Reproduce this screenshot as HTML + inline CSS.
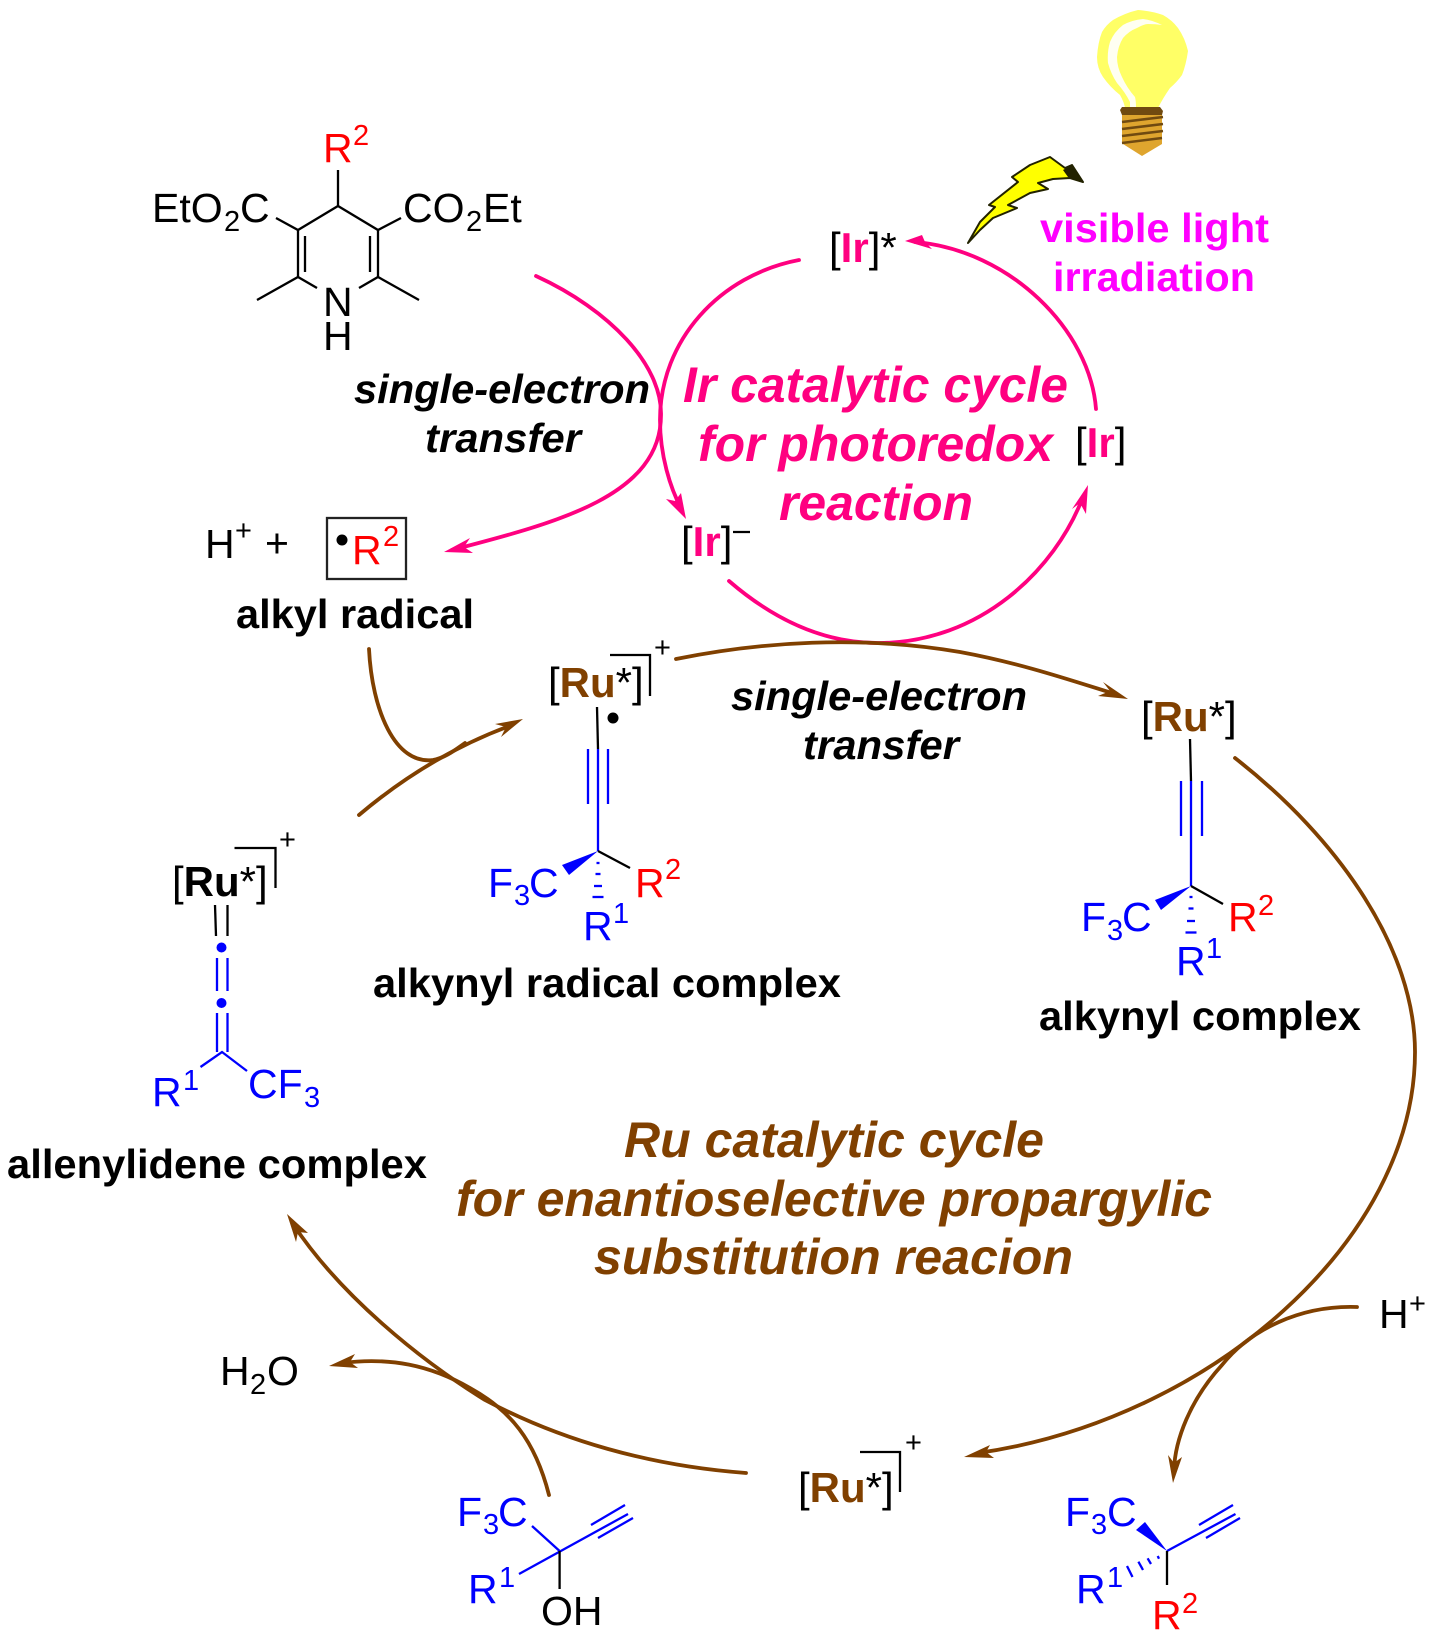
<!DOCTYPE html>
<html><head><meta charset="utf-8"><style>
html,body{margin:0;padding:0;background:#fff}
svg{display:block}
text{font-family:"Liberation Sans",sans-serif;white-space:pre}
.n{font-size:41px}.s{font-size:29px}.k{font-size:42px}
.b{font-size:41px;font-weight:bold}
.bi{font-size:41px;font-weight:bold;font-style:italic;text-anchor:start}
.h{font-size:50px;font-weight:bold;font-style:italic}
.l{stroke:#000;stroke-width:2.3;fill:none}
.u{stroke:#0000ff;stroke-width:2.3;fill:none}
.p{stroke:#ff0080;stroke-width:3.8;fill:none;stroke-linecap:round}
.r{stroke:#804000;stroke-width:3.8;fill:none;stroke-linecap:round}
.bl{fill:#0000ff}.rd{fill:#ff0000}.pk{fill:#ff0080}.br{fill:#804000}.mg{fill:#ff00ff}
</style></head><body>
<svg width="1436" height="1640" viewBox="0 0 1436 1640" xmlns="http://www.w3.org/2000/svg">
<rect width="1436" height="1640" fill="#fff"/>

<!-- bulb -->
<path fill="#ffff66" d="M1138 10 Q1152 11 1163 15 Q1172 20 1178 28 Q1185 38 1188 51 Q1186 65 1182 75 Q1177 82 1170 88 Q1163 98 1158 108 L1125 108 Q1124 102 1120 95 Q1110 87 1103 77 Q1097 68 1097 57 Q1098 42 1102 32 Q1106 25 1113 20 Q1125 13 1138 10 Z"/>
<path fill="#fffff2" d="M1162 25 Q1152 20 1143 19 Q1132 20 1123 25 Q1114 32 1110 42 Q1107 52 1108 63 Q1111 74 1117 83 Q1125 92 1130 102 L1130 107 L1136 107 Q1136 101 1135 97 Q1127 88 1122 77 Q1117 67 1117 57 Q1118 46 1123 38 Q1129 31 1137 28 Q1144 24 1148 24 Q1156 24 1162 25 Z"/>
<rect x="1122" y="112" width="40" height="32" fill="#dfa52e"/>
<polygon fill="#dfa52e" points="1123,144 1162,144 1142,156"/>
<polygon fill="#704a10" points="1120,110 1122,107 1160,107 1163,111 1162,115 1122,115"/>
<g stroke="#704a10" stroke-width="2.6"><line x1="1122" y1="122" x2="1163" y2="117"/><line x1="1122" y1="129" x2="1163" y2="124"/><line x1="1122" y1="136" x2="1163" y2="131"/><line x1="1122" y1="143" x2="1162" y2="138"/></g>
<!-- lightning -->
<polygon fill="#ffff00" stroke="#222200" stroke-width="2" stroke-linejoin="round" points="968,243 980,222 995,207 989,205 1018,182 1012,177 1030,165 1050,157 1065,168 1072,165 1083,182 1070,178 1053,179 1038,183 1048,189 1030,193 1008,205 1017,208 993,218 980,230"/>
<polygon fill="#222200" points="1063,170 1072,165 1083,182 1068,177"/>

<!-- dihydropyridine -->
<line class="l" x1="338" y1="170" x2="338" y2="206"/>
<polyline class="l" points="276,218 298,230 338,206 378,230 401,218"/>
<polyline class="l" points="257,300 298,277 317,288"/>
<polyline class="l" points="419,300 378,277 359,288"/>
<line class="l" x1="298" y1="230" x2="298" y2="277"/>
<line class="l" x1="378" y1="230" x2="378" y2="277"/>
<line class="l" x1="305" y1="236" x2="305" y2="272"/>
<line class="l" x1="370" y1="236" x2="370" y2="272"/>
<text class="n rd" x="323" y="162">R</text><text class="s rd" x="353" y="145">2</text>
<text class="n" x="152" y="222">EtO</text><text class="s" x="224" y="231">2</text><text class="n" x="240" y="222">C</text>
<text class="n" x="403" y="222">CO</text><text class="s" x="466" y="231">2</text><text class="n" x="483" y="222">Et</text>
<text class="n" x="323" y="316">N</text><text class="n" x="323" y="350">H</text>

<!-- pink arrows -->
<path class="p" d="M536 276 C610 310 662 365 661 415 C661 495 560 522 452 550"/>
<polygon class="pk" points="444,552 470,538 464,547 473,553"/>
<path class="p" d="M799 260 C720 275 660 340 660 420 C660 455 670 488 682 510"/>
<polygon class="pk" points="686,519 666,499 675,501 681,493"/>
<path class="p" d="M1096 409 C1090 330 1010 250 915 242"/>
<polygon class="pk" points="905,241 922,235 925,242 932,249"/>
<path class="p" d="M729 581 C780 625 830 643 878 643 C980 643 1055 570 1083 497"/>
<polygon class="pk" points="1088,485 1072,509 1080,503 1086,514"/>

<!-- pink texts -->
<text x="829" y="262" class="k">[<tspan font-weight="bold" class="pk">Ir</tspan>]*</text>
<text x="1075" y="457" class="k">[<tspan font-weight="bold" class="pk">Ir</tspan>]</text>
<text x="681" y="556" class="k">[<tspan font-weight="bold" class="pk">Ir</tspan>]</text>
<line x1="733" y1="532" x2="750" y2="532" stroke="#000" stroke-width="2.3"/>
<text class="h pk" x="683" y="402" textLength="385" lengthAdjust="spacingAndGlyphs">Ir catalytic cycle</text>
<text class="h pk" x="698" y="461" textLength="355" lengthAdjust="spacingAndGlyphs">for photoredox</text>
<text class="h pk" x="779" y="520" textLength="194" lengthAdjust="spacingAndGlyphs">reaction</text>
<text class="b mg" x="1040" y="242" textLength="229" lengthAdjust="spacingAndGlyphs">visible light</text>
<text class="b mg" x="1053" y="291" textLength="202" lengthAdjust="spacingAndGlyphs">irradiation</text>
<text class="bi" x="354" y="403" textLength="296" lengthAdjust="spacingAndGlyphs">single-electron</text>
<text class="bi" x="425" y="452" textLength="156" lengthAdjust="spacingAndGlyphs">transfer</text>

<!-- H+ + R2 radical -->
<text class="n" x="205" y="558">H</text><text class="s" x="235" y="540">+</text><text class="n" x="265" y="557">+</text>
<rect x="327" y="518" width="79" height="61" fill="none" stroke="#222" stroke-width="2.3"/>
<circle cx="342" cy="540" r="5.5" fill="#000"/>
<text class="n rd" x="352" y="564">R</text><text class="s rd" x="383" y="546">2</text>
<text class="b" x="236" y="628" textLength="238" lengthAdjust="spacingAndGlyphs">alkyl radical</text>

<!-- brown arrows -->
<path class="r" d="M369 649 C372 710 395 765 433 760 C445 758 455 750 465 743"/>
<path class="r" d="M359 815 Q430 755 512 725"/>
<polygon class="br" points="523,719 495,724 506,727 501,737"/>
<path class="r" d="M676 659 C760 642 860 635 960 652 C1020 663 1070 680 1115 694"/>
<polygon class="br" points="1128,699 1103,682 1110,691 1098,696"/>
<path class="r" d="M1235 758 C1340 840 1415 950 1415 1052 C1415 1240 1210 1420 978 1453"/>
<polygon class="br" points="964,1457 990,1445 986,1452 994,1458"/>
<path class="r" d="M746 1473 C650 1466 560 1440 485 1400 C420 1360 340 1295 293 1224"/>
<polygon class="br" points="287,1214 308,1233 298,1232 296,1242"/>
<path class="r" d="M549 1495 C535 1440 510 1410 470 1388 C430 1365 390 1357 342 1363"/>
<polygon class="br" points="329,1366 355,1354 350,1362 358,1368"/>
<path class="r" d="M1357 1307 C1300 1305 1250 1330 1222 1365 C1190 1400 1175 1440 1174 1470"/>
<polygon class="br" points="1173,1483 1168,1455 1174,1463 1182,1457"/>

<!-- alkynyl radical complex -->
<text x="548" y="697" class="k">[<tspan font-weight="bold" class="br">Ru</tspan>*]</text>
<polyline class="l" points="610,655 650,655 650,696"/>
<text class="s" x="654" y="657">+</text>
<line class="l" x1="597" y1="707" x2="598" y2="749"/>
<line class="u" x1="598" y1="749" x2="598" y2="851"/>
<line class="u" x1="588" y1="749" x2="588" y2="804"/>
<line class="u" x1="608" y1="749" x2="608" y2="804"/>
<circle cx="613" cy="718" r="5.5" fill="#000"/>
<polygon class="bl" points="598,851 562,865 569,875"/>
<line class="l" x1="598" y1="851" x2="630" y2="868"/>
<line class="u" x1="596.5" y1="863" x2="599.5" y2="863"/><line class="u" x1="595.5" y1="874" x2="600.5" y2="874"/><line class="u" x1="594" y1="886" x2="602" y2="886"/><line class="u" x1="592.5" y1="897" x2="603.5" y2="897"/>
<text class="n bl" x="488" y="897">F</text><text class="s bl" x="514" y="905">3</text><text class="n bl" x="529" y="897">C</text>
<text class="n rd" x="635" y="897">R</text><text class="s rd" x="665" y="879">2</text>
<text class="n bl" x="583" y="940">R</text><text class="s bl" x="613" y="923">1</text>
<text class="b" x="373" y="997" textLength="468" lengthAdjust="spacingAndGlyphs">alkynyl radical complex</text>

<!-- single-electron 2 -->
<text class="bi" x="731" y="710" textLength="296" lengthAdjust="spacingAndGlyphs">single-electron</text>
<text class="bi" x="803" y="759" textLength="156" lengthAdjust="spacingAndGlyphs">transfer</text>

<!-- alkynyl complex -->
<text x="1141" y="731" class="k">[<tspan font-weight="bold" class="br">Ru</tspan>*]</text>
<line class="l" x1="1190" y1="739" x2="1191" y2="781"/>
<line class="u" x1="1191" y1="781" x2="1191" y2="886"/>
<line class="u" x1="1181" y1="781" x2="1181" y2="836"/>
<line class="u" x1="1202" y1="781" x2="1202" y2="836"/>
<polygon class="bl" points="1191,886 1155,900 1161,910"/>
<line class="l" x1="1191" y1="886" x2="1223" y2="904"/>
<line class="u" x1="1189.5" y1="897" x2="1192.5" y2="897"/><line class="u" x1="1188.5" y1="908.5" x2="1193.5" y2="908.5"/><line class="u" x1="1187" y1="921" x2="1195" y2="921"/><line class="u" x1="1185.5" y1="932.5" x2="1196.5" y2="932.5"/>
<text class="n bl" x="1081" y="931">F</text><text class="s bl" x="1107" y="940">3</text><text class="n bl" x="1122" y="931">C</text>
<text class="n rd" x="1228" y="931">R</text><text class="s rd" x="1258" y="915">2</text>
<text class="n bl" x="1176" y="975">R</text><text class="s bl" x="1206" y="958">1</text>
<text class="b" x="1039" y="1030" textLength="322" lengthAdjust="spacingAndGlyphs">alkynyl complex</text>

<!-- allenylidene -->
<text x="172" y="896" class="k">[<tspan font-weight="bold">Ru</tspan>*]</text>
<polyline class="l" points="234.5,848 275.5,848 275.5,888"/>
<text class="s" x="279" y="849">+</text>
<line class="l" x1="215" y1="905" x2="216" y2="936"/>
<line class="l" x1="227.5" y1="905" x2="227.5" y2="936"/>
<circle cx="221.5" cy="947.5" r="5" fill="#0000ff"/>
<line class="u" x1="217" y1="958" x2="217" y2="991"/>
<line class="u" x1="227.5" y1="958" x2="227.5" y2="991"/>
<circle cx="221.5" cy="1003" r="5" fill="#0000ff"/>
<line class="u" x1="217" y1="1013" x2="217" y2="1052"/>
<line class="u" x1="227.5" y1="1013" x2="227.5" y2="1052"/>
<polyline class="u" points="200.5,1067 222,1052 247,1071"/>
<text class="n bl" x="152" y="1106">R</text><text class="s bl" x="183" y="1090">1</text>
<text class="n bl" x="248" y="1098">CF</text><text class="s bl" x="304" y="1107">3</text>
<text class="b" x="7" y="1178" textLength="420" lengthAdjust="spacingAndGlyphs">allenylidene complex</text>

<!-- Ru cycle text -->
<text class="h br" x="624" y="1157" textLength="420" lengthAdjust="spacingAndGlyphs">Ru catalytic cycle</text>
<text class="h br" x="456" y="1216" textLength="756" lengthAdjust="spacingAndGlyphs">for enantioselective propargylic</text>
<text class="h br" x="594" y="1274" textLength="479" lengthAdjust="spacingAndGlyphs">substitution reacion</text>

<!-- bottom Ru -->
<text x="798" y="1502" class="k">[<tspan font-weight="bold" class="br">Ru</tspan>*]</text>
<polyline class="l" points="860,1452 900,1452 900,1492"/>
<text class="s" x="905" y="1452">+</text>

<text class="n" x="220" y="1385">H</text><text class="s" x="250" y="1394">2</text><text class="n" x="267" y="1385">O</text>
<text class="n" x="1379" y="1328">H</text><text class="s" x="1409" y="1313">+</text>

<!-- bottom-left molecule -->
<text class="n bl" x="457" y="1526">F</text><text class="s bl" x="483" y="1534">3</text><text class="n bl" x="498" y="1526">C</text>
<line class="u" x1="532" y1="1526" x2="559.6" y2="1551"/>
<line class="u" x1="519" y1="1574" x2="628" y2="1514"/>
<line class="u" x1="591" y1="1525" x2="625" y2="1505"/>
<line class="u" x1="598" y1="1538" x2="633" y2="1518"/>
<line class="l" x1="559.6" y1="1551" x2="559.6" y2="1589"/>
<text class="n" x="541" y="1625">OH</text>
<text class="n bl" x="468" y="1603">R</text><text class="s bl" x="499" y="1587">1</text>

<!-- bottom-right molecule -->
<text class="n bl" x="1065" y="1526">F</text><text class="s bl" x="1091" y="1534">3</text><text class="n bl" x="1107" y="1526">C</text>
<polygon class="bl" points="1167,1551 1136,1530 1145,1522"/>
<line class="u" x1="1167" y1="1551" x2="1235.5" y2="1514"/>
<line class="u" x1="1199" y1="1525" x2="1233" y2="1505"/>
<line class="u" x1="1206" y1="1538" x2="1240" y2="1518"/>
<line class="l" x1="1167" y1="1551" x2="1167" y2="1585"/>
<line class="u" x1="1157.7" y1="1556" x2="1159" y2="1558.7"/><line class="u" x1="1147.6" y1="1558.3" x2="1151" y2="1564"/><line class="u" x1="1138.4" y1="1561.7" x2="1143" y2="1570"/><line class="u" x1="1127" y1="1566" x2="1132.5" y2="1577"/>
<text class="n bl" x="1076" y="1603">R</text><text class="s bl" x="1107" y="1587">1</text>
<text class="n rd" x="1152" y="1629">R</text><text class="s rd" x="1182" y="1613">2</text>
</svg>
</body></html>
